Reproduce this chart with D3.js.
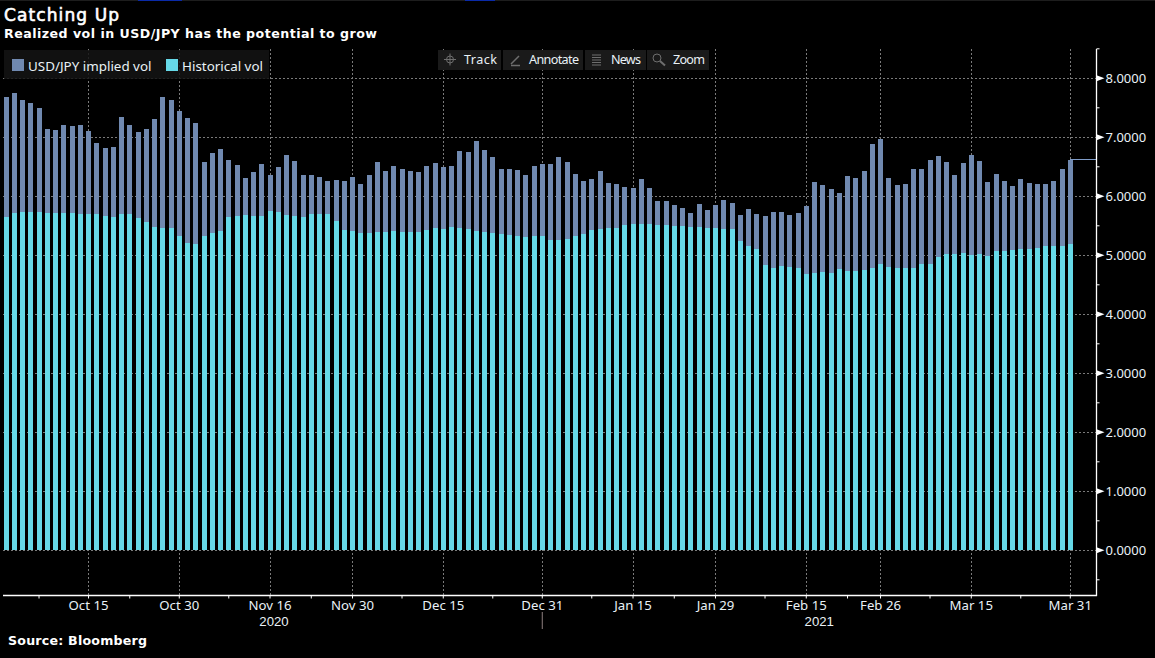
<!DOCTYPE html>
<html>
<head>
<meta charset="utf-8">
<script src="https://cdn.jsdelivr.net/npm/d3@7"></script>
<style>
  html, body { margin: 0; background: #000; overflow: hidden; }
  text { font-family: "Noto Sans", sans-serif; fill: #e9f1f6; }
</style>
</head>
<body>
<div id="chart"></div>
<script>
// weekdays only, Oct 1 2020 to Mar 31 2021
const dates = d3.utcDays(new Date(Date.UTC(2020, 9, 1)), new Date(Date.UTC(2021, 3, 1)))
    .filter(d => d.getUTCDay() % 6 !== 0)
    .map(d3.utcFormat("%Y-%m-%d"));

const impliedVol = [
    7.68, 7.75, 7.63, 7.58, 7.50, 7.14, 7.12, 7.21, 7.19, 7.21,
    7.11, 6.90, 6.82, 6.84, 7.34, 7.21, 7.09, 7.14, 7.31, 7.68,
    7.63, 7.45, 7.33, 7.24, 6.58, 6.73, 6.80, 6.62, 6.53, 6.31,
    6.41, 6.55, 6.36, 6.50, 6.70, 6.60, 6.36, 6.36, 6.33, 6.26,
    6.28, 6.26, 6.33, 6.21, 6.36, 6.58, 6.43, 6.51, 6.46, 6.43,
    6.41, 6.51, 6.56, 6.50, 6.51, 6.77, 6.75, 6.94, 6.79, 6.67,
    6.46, 6.47, 6.45, 6.36, 6.51, 6.55, 6.55, 6.67, 6.58, 6.38,
    6.26, 6.29, 6.43, 6.23, 6.21, 6.16, 6.14, 6.29, 6.14, 5.92,
    5.92, 5.85, 5.80, 5.72, 5.87, 5.77, 5.85, 5.94, 5.89, 5.68,
    5.79, 5.70, 5.67, 5.73, 5.73, 5.68, 5.72, 5.84, 6.24, 6.19,
    6.12, 6.06, 6.34, 6.31, 6.43, 6.89, 6.97, 6.31, 6.19, 6.21,
    6.46, 6.46, 6.62, 6.68, 6.58, 6.36, 6.56, 6.70, 6.60, 6.24,
    6.38, 6.26, 6.18, 6.29, 6.23, 6.21, 6.21, 6.26, 6.46, 6.62
];

const historicalVol = [
    5.65, 5.72, 5.73, 5.73, 5.73, 5.72, 5.72, 5.72, 5.72, 5.70,
    5.70, 5.70, 5.67, 5.65, 5.70, 5.70, 5.63, 5.56, 5.48, 5.46,
    5.46, 5.33, 5.21, 5.19, 5.33, 5.38, 5.41, 5.65, 5.67, 5.68,
    5.67, 5.67, 5.75, 5.73, 5.68, 5.67, 5.65, 5.70, 5.70, 5.70,
    5.58, 5.43, 5.41, 5.38, 5.38, 5.40, 5.40, 5.41, 5.40, 5.40,
    5.40, 5.43, 5.46, 5.45, 5.48, 5.46, 5.45, 5.41, 5.40, 5.38,
    5.36, 5.34, 5.33, 5.31, 5.33, 5.33, 5.26, 5.26, 5.28, 5.33,
    5.36, 5.43, 5.45, 5.46, 5.46, 5.51, 5.53, 5.53, 5.53, 5.51,
    5.51, 5.50, 5.50, 5.48, 5.48, 5.46, 5.46, 5.45, 5.45, 5.24,
    5.16, 5.11, 4.84, 4.79, 4.82, 4.80, 4.79, 4.68, 4.70, 4.72,
    4.70, 4.77, 4.73, 4.73, 4.75, 4.79, 4.86, 4.80, 4.79, 4.79,
    4.79, 4.86, 4.86, 4.97, 5.02, 5.02, 5.04, 5.01, 5.02, 4.99,
    5.07, 5.07, 5.09, 5.11, 5.11, 5.12, 5.16, 5.16, 5.16, 5.19
];

const majorDates = ["2020-10-15", "2020-10-30", "2020-11-16", "2020-11-30", "2020-12-15", "2020-12-31",
    "2021-01-15", "2021-01-29", "2021-02-15", "2021-02-26", "2021-03-15", "2021-03-31"];
const majorLabels = ["Oct 15", "Oct 30", "Nov 16", "Nov 30", "Dec 15", "Dec 31",
    "Jan 15", "Jan 29", "Feb 15", "Feb 26", "Mar 15", "Mar 31"];
const minorDates = ["2020-10-07", "2020-10-22", "2020-11-09", "2020-11-23", "2020-12-08", "2020-12-23",
    "2021-01-08", "2021-01-22", "2021-02-08", "2021-02-22", "2021-03-08", "2021-03-23"];
const yearLabels = [["2020", "2020-11-16"], ["2021", "2021-02-15"]];

const yMajor = [0, 1, 2, 3, 4, 5, 6, 7, 8];
const yMinor = [-0.5, 0.5, 1.5, 2.5, 3.5, 4.5, 5.5, 6.5, 7.5, 8.5];

const legendItems = [["USD/JPY implied vol", "#7089b0"], ["Historical vol", "#66d9e8"]];
const toolbarItems = ["Track", "Annotate", "News", "Zoom"];

const width = 1155, height = 658;
const plot = {left: 3, right: 1096.5, top: 49, bottom: 595.5};

const svg = d3.select("#chart").append("svg")
    .attr("width", width)
    .attr("height", height)
    .style("display", "block");

const x = d3.scaleBand()
    .domain(dates)
    .range([1.9, 1.9 + 130 * 8.25])
    .paddingInner(0.39)
    .paddingOuter(0.195);
const xMid = d => x(d) + x.bandwidth() / 2;

const y = d3.scaleLinear()
    .domain([0, 8])
    .range([550.3, 78.3]);

// top strip of the terminal window
svg.append("rect").attr("width", width).attr("height", 1).attr("fill", "#1d1d1d");
svg.append("rect").attr("x", 138).attr("width", 44).attr("height", 1).attr("fill", "#0a2aa8");
svg.append("rect").attr("x", 465).attr("width", 30).attr("height", 1).attr("fill", "#0a2aa8");

/* grid */
const grid = svg.append("g")
    .attr("stroke", "#7a7a7a")
    .attr("stroke-dasharray", "2 2")
    .attr("shape-rendering", "crispEdges");

grid.selectAll(".h").data(yMajor).join("line")
    .attr("x1", plot.left).attr("x2", plot.right)
    .attr("y1", d => y(d)).attr("y2", d => y(d));

grid.selectAll(".v").data(majorDates).join("line")
    .attr("x1", xMid).attr("x2", xMid)
    .attr("y1", plot.top).attr("y2", plot.bottom);

/* bars, historical sits in front of implied */
const bars = svg.append("g").attr("shape-rendering", "crispEdges");

bars.selectAll(".implied").data(dates).join("rect")
    .attr("x", d => x(d))
    .attr("width", x.bandwidth())
    .attr("y", (d, i) => y(impliedVol[i]))
    .attr("height", (d, i) => y(0) - y(impliedVol[i]))
    .attr("fill", legendItems[0][1]);

bars.selectAll(".historical").data(dates).join("rect")
    .attr("x", d => x(d))
    .attr("width", x.bandwidth())
    .attr("y", (d, i) => y(historicalVol[i]))
    .attr("height", (d, i) => y(0) - y(historicalVol[i]))
    .attr("fill", legendItems[1][1]);

// last value line out to the axis
const lastDate = dates[dates.length - 1];
svg.append("line")
    .attr("x1", xMid(lastDate)).attr("x2", plot.right)
    .attr("y1", y(impliedVol[impliedVol.length - 1])).attr("y2", y(impliedVol[impliedVol.length - 1]))
    .attr("stroke", "#7f9cc8")
    .attr("shape-rendering", "crispEdges");

/* right axis */
const yAxis = svg.append("g")
    .attr("transform", `translate(${plot.right},0)`)
    .call(d3.axisRight(y).tickValues(yMajor).tickFormat(d3.format(".4f")).tickSize(0).tickPadding(9));
yAxis.select(".domain").remove();
yAxis.selectAll("text")
    .attr("font-size", 13)
    .attr("font-family", '"Noto Sans", sans-serif')
    .attr("fill", "#e9f1f6");

svg.append("line")
    .attr("x1", plot.right).attr("x2", plot.right)
    .attr("y1", plot.top).attr("y2", plot.bottom)
    .attr("stroke", "#fff").attr("stroke-width", 1.3);

svg.append("g").selectAll("line").data(yMinor).join("line")
    .attr("x1", plot.right).attr("x2", plot.right + 3)
    .attr("y1", d => y(d)).attr("y2", d => y(d))
    .attr("stroke", "#fff");

svg.append("g").selectAll("path").data(yMajor).join("path")
    .attr("d", d => `M${plot.right},${y(d) - 3}L${plot.right + 8},${y(d)}L${plot.right},${y(d) + 3}Z`)
    .attr("fill", "#fff");

/* bottom axis */
const labelOf = d3.scaleOrdinal().domain(majorDates).range(majorLabels);
const xAxis = svg.append("g")
    .attr("transform", `translate(0,${plot.bottom})`)
    .call(d3.axisBottom(x).tickValues(majorDates).tickFormat(labelOf).tickSize(3).tickPadding(2));
xAxis.select(".domain").remove();
xAxis.selectAll("line").attr("stroke", "#fff");
xAxis.selectAll("text")
    .attr("font-size", 13.2)
    .attr("font-family", '"Noto Sans", sans-serif')
    .attr("fill", "#e9f1f6");

svg.append("line")
    .attr("x1", plot.left).attr("x2", plot.right + 0.6)
    .attr("y1", plot.bottom).attr("y2", plot.bottom)
    .attr("stroke", "#fff").attr("stroke-width", 1.3);

svg.append("g").selectAll("line").data(minorDates).join("line")
    .attr("x1", xMid).attr("x2", xMid)
    .attr("y1", plot.bottom).attr("y2", plot.bottom + 3)
    .attr("stroke", "#fff");

svg.append("g").selectAll("text").data(yearLabels).join("text")
    .attr("x", d => xMid(d[1]) + (d[0] === "2020" ? 4 : 13))
    .attr("y", 626)
    .attr("text-anchor", "middle")
    .attr("font-size", 13.2)
    .style("font-family", '"Liberation Sans"')
    .text(d => d[0]);

// year separator sits under the Dec 31 label
svg.append("line")
    .attr("x1", xMid("2020-12-31")).attr("x2", xMid("2020-12-31"))
    .attr("y1", 612).attr("y2", 629)
    .attr("stroke", "#8d7f7f");

/* titles */
svg.append("text").attr("x", 4).attr("y", 21)
    .style("font-family", '"DejaVu Sans"').style("fill", "#fff")
    .attr("font-size", 17).attr("font-weight", 400)
    .attr("stroke", "#fff").attr("stroke-width", 0.6)
    .attr("textLength", 115)
    .text("Catching Up");

svg.append("text").attr("x", 4).attr("y", 38)
    .style("font-family", '"DejaVu Sans"').style("fill", "#fff")
    .attr("font-size", 12.6).attr("font-weight", 700)
    .attr("textLength", 373)
    .text("Realized vol in USD/JPY has the potential to grow");

svg.append("text").attr("x", 8).attr("y", 645)
    .style("font-family", '"DejaVu Sans"').style("fill", "#fff")
    .attr("font-size", 12.6).attr("font-weight", 700)
    .attr("textLength", 139)
    .text("Source: Bloomberg");

/* legend */
svg.append("rect")
    .attr("x", 4).attr("y", 50).attr("width", 265).attr("height", 29)
    .attr("fill", "#141414").attr("fill-opacity", 0.85);

const legendPos = d3.scalePoint().domain(legendItems.map(d => d[0])).range([12, 166]);
const legend = svg.append("g").selectAll("g").data(legendItems).join("g")
    .attr("transform", d => `translate(${legendPos(d[0])},59)`);
legend.append("rect").attr("width", 12).attr("height", 12).attr("fill", d => d[1]);
legend.append("text").attr("x", 16).attr("y", 11.5).attr("font-size", 13.4).text(d => d[0]);

/* toolbar, inert buttons from the terminal */
const toolX = d3.scaleOrdinal().domain(toolbarItems).range([438, 503, 585, 647]);
const toolW = d3.scaleOrdinal().domain(toolbarItems).range([63, 80, 61, 62]);
const toolTextW = d3.scaleOrdinal().domain(toolbarItems).range([33, 50, 30, 32]);
const tools = svg.append("g").selectAll("g").data(toolbarItems).join("g")
    .attr("transform", d => `translate(${toolX(d)},50)`);
tools.append("rect").attr("width", d => toolW(d)).attr("height", 20).attr("fill", "#1a1a1a");
tools.append("text").attr("x", 26).attr("y", 14).attr("font-size", 12.6)
    .attr("textLength", d => toolTextW(d))
    .text(d => d);

const icons = svg.append("g").attr("stroke", "#6e6e6e").attr("fill", "none");
icons.append("circle").attr("cx", 450).attr("cy", 59.5).attr("r", 3.5);
icons.append("path").attr("d", "M444,59.5H456M450,53.5V65.5");
icons.append("path").attr("d", "M511,64L519,56M511,65.5H520").attr("stroke-width", 1.5);
icons.append("path").attr("d", "M592,55H601M592,57.5H601M592,60H601M592,62.5H601M592,65H601");
icons.append("circle").attr("cx", 657).attr("cy", 58).attr("r", 4);
icons.append("path").attr("d", "M660,61L665,65.5").attr("stroke-width", 2);
</script>
</body>
</html>
